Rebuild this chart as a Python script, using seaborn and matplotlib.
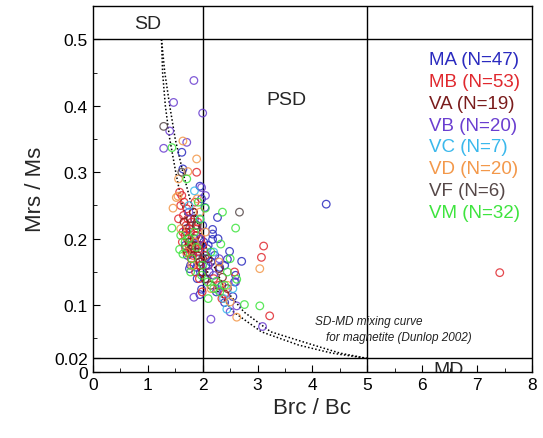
import numpy as np
import pandas as pd
import seaborn as sns
import matplotlib.pyplot as plt
from matplotlib.ticker import MultipleLocator

sns.set_style("ticks")
plt.rcParams['font.family'] = ['Liberation Sans', 'DejaVu Sans']

# Grupos de muestras (Brc/Bc, Mrs/Ms)
ma_x = [4.25, 1.62, 1.64, 1.95, 1.98, 2.04, 2.27, 2.18, 2.18, 2.18, 2.31, 2.49, 2.45, 2.71, 2.55, 2.40,
        2.04, 1.98, 1.95, 1.89, 1.78, 1.76, 2.10, 2.22, 1.70, 1.85, 1.92, 2.05, 2.12, 2.35, 2.60, 1.80,
        1.88, 2.00, 2.08, 1.72, 1.90, 2.28, 2.15, 1.96, 2.02, 2.40, 1.82, 2.25, 2.58, 1.68, 2.06]
ma_y = [0.252, 0.330, 0.305, 0.279, 0.260, 0.247, 0.232, 0.214, 0.207, 0.199, 0.157, 0.181, 0.169, 0.166,
        0.113, 0.104, 0.139, 0.124, 0.116, 0.157, 0.160, 0.155, 0.190, 0.175, 0.215, 0.230, 0.180, 0.170,
        0.150, 0.130, 0.145, 0.195, 0.205, 0.220, 0.185, 0.175, 0.140, 0.200, 0.165, 0.150, 0.195, 0.160,
        0.178, 0.120, 0.135, 0.190, 0.160]

mb_x = [7.41, 3.11, 3.07, 3.22, 2.40, 2.58, 1.89, 1.60, 1.65, 1.70, 1.72, 1.75, 1.78, 1.80, 1.82, 1.85,
        1.88, 1.90, 1.92, 1.95, 1.78, 1.80, 1.83, 1.86, 1.74, 1.77, 1.68, 1.62, 1.58, 1.66, 1.84, 1.87,
        1.93, 1.97, 2.00, 2.05, 1.73, 1.79, 1.81, 1.76, 1.71, 1.69, 1.64, 1.91, 1.94, 2.10, 2.20, 2.30,
        1.56, 1.63, 1.86, 1.99, 2.35]
mb_y = [0.149, 0.189, 0.172, 0.084, 0.117, 0.150, 0.300, 0.250, 0.235, 0.220, 0.200, 0.190, 0.185, 0.180,
        0.175, 0.195, 0.205, 0.215, 0.170, 0.160, 0.210, 0.225, 0.240, 0.185, 0.178, 0.195, 0.205, 0.265,
        0.270, 0.255, 0.160, 0.150, 0.185, 0.200, 0.190, 0.175, 0.230, 0.170, 0.190, 0.215, 0.245, 0.185,
        0.210, 0.225, 0.140, 0.160, 0.140, 0.130, 0.230, 0.195, 0.255, 0.120, 0.110]

va_x = [1.70, 1.75, 1.80, 1.85, 1.90, 1.95, 2.00, 2.05, 1.78, 1.83, 1.88, 2.36, 2.30, 2.15, 1.72, 1.93,
        2.10, 1.66, 2.45]
va_y = [0.210, 0.195, 0.185, 0.200, 0.175, 0.165, 0.150, 0.140, 0.230, 0.240, 0.220, 0.142, 0.155, 0.130,
        0.180, 0.190, 0.170, 0.225, 0.125]

vb_x = [1.84, 1.47, 2.00, 1.40, 1.29, 1.71, 1.84, 2.15, 3.09, 2.62, 2.27, 2.60, 1.98, 2.30, 1.95, 2.10,
        1.75, 2.20, 2.05, 2.50]
vb_y = [0.438, 0.405, 0.389, 0.362, 0.336, 0.345, 0.112, 0.079, 0.068, 0.099, 0.124, 0.135, 0.277, 0.170,
        0.200, 0.160, 0.240, 0.145, 0.265, 0.090]

vc_x = [1.85, 2.44, 2.38, 1.95, 2.20, 1.75, 2.55]
vc_y = [0.272, 0.094, 0.110, 0.230, 0.180, 0.250, 0.125]

vd_x = [1.64, 1.89, 1.73, 1.56, 1.55, 1.52, 1.46, 3.04, 2.62, 2.50, 1.70, 1.80, 1.95, 2.05, 2.30, 1.60,
        1.85, 2.15, 2.45, 1.90]
vd_y = [0.347, 0.320, 0.301, 0.290, 0.264, 0.262, 0.246, 0.155, 0.082, 0.105, 0.180, 0.160, 0.240, 0.210,
        0.165, 0.215, 0.195, 0.125, 0.130, 0.260]

vf_x = [1.29, 2.67, 1.80, 2.00, 1.90, 1.62]
vf_y = [0.369, 0.240, 0.190, 0.170, 0.220, 0.300]

vm_x = [1.44, 2.36, 2.60, 2.33, 3.04, 1.44, 1.71, 1.58, 1.64, 2.05, 1.95, 2.25, 2.62, 2.76, 2.09, 2.31,
        1.89, 1.75, 1.80, 1.85, 2.00, 2.15, 2.45, 1.68, 1.92, 2.20, 2.50, 1.60, 1.78, 2.10, 2.40, 1.98]
vm_y = [0.216, 0.240, 0.216, 0.192, 0.099, 0.337, 0.290, 0.184, 0.177, 0.246, 0.229, 0.136, 0.139, 0.101,
        0.135, 0.120, 0.187, 0.200, 0.170, 0.210, 0.160, 0.180, 0.150, 0.195, 0.255, 0.125, 0.170, 0.205,
        0.150, 0.110, 0.130, 0.145]

grupos = ['MA', 'MB', 'VA', 'VB', 'VC', 'VD', 'VF', 'VM']
colores = ['#2a2abf', '#e0282e', '#7a1c1c', '#6a3ed0', '#3ab8ec', '#f3984a', '#564848', '#3ee43e']
datos = [(ma_x, ma_y), (mb_x, mb_y), (va_x, va_y), (vb_x, vb_y), (vc_x, vc_y),
         (vd_x, vd_y), (vf_x, vf_y), (vm_x, vm_y)]

# Curvas de mezcla SD-MD (Dunlop 2002)
curva_y = [0.50, 0.45, 0.40, 0.35, 0.30, 0.25, 0.20, 0.16, 0.125, 0.09, 0.06, 0.04, 0.028, 0.02]
curva1_x = [1.25, 1.31, 1.40, 1.50, 1.64, 1.80, 2.00, 2.20, 2.40, 2.75, 3.24, 4.02, 4.50, 5.00]
curva2_x = [1.25, 1.27, 1.32, 1.40, 1.51, 1.63, 1.82, 2.03, 2.24, 2.56, 3.07, 3.75, 4.35, 5.00]

df = pd.concat([pd.DataFrame({'Brc/Bc': x, 'Mrs/Ms': y, 'grupo': g})
                for g, (x, y) in zip(grupos, datos)], ignore_index=True)

fig, ax = plt.subplots(figsize=(5.43, 4.39), dpi=100)
fig.subplots_adjust(left=0.171, right=0.980, top=0.984, bottom=0.151)

# Lineas de los dominios
for yv in [0.5, 0.02]:
    ax.axhline(yv, color='k', lw=1.0, zorder=1)
for xv in [2, 5]:
    ax.axvline(xv, color='k', lw=1.0, zorder=1)

for cx in [curva1_x, curva2_x]:
    sns.lineplot(x=cx, y=curva_y, sort=False, estimator=None, color='k', lw=1.1,
                 dashes=False, ax=ax).lines[-1].set_dashes((1, 1.4))

sns.scatterplot(data=df, x='Brc/Bc', y='Mrs/Ms', hue='grupo', palette=dict(zip(grupos, colores)),
                s=30, linewidth=0.9, legend=False, ax=ax, zorder=3)
# circulos huecos
for coll in ax.collections:
    fc = coll.get_facecolors()
    coll.set_edgecolors(fc)
    coll.set_facecolor('none')
    coll.set_alpha(0.85)

ax.set_xlim(0, 8)
ax.set_ylim(0, 0.55)
ax.set_xticks(range(9))
ax.set_yticks([0, 0.02, 0.1, 0.2, 0.3, 0.4, 0.5])
ax.set_yticklabels(['0', '0.02', '0.1', '0.2', '0.3', '0.4', '0.5'])
ax.xaxis.set_minor_locator(MultipleLocator(0.5))
ax.yaxis.set_minor_locator(MultipleLocator(0.05))
ax.tick_params(which='both', direction='in', labelsize=12.5, colors='k')
ax.tick_params(which='major', length=5)
ax.tick_params(which='minor', length=3)
for sp in ax.spines.values():
    sp.set_color('k')
    sp.set_linewidth(1.0)

ax.set_xlabel('Brc / Bc', fontsize=16, labelpad=4)
ax.set_ylabel('Mrs / Ms', fontsize=16, labelpad=6)

ax.text(1.0, 0.523, 'SD', fontsize=14, ha='center', va='center')
ax.text(3.53, 0.41, 'PSD', fontsize=14, ha='center', va='center')
ax.text(6.47, 0.016, 'MD', fontsize=14, ha='center', va='top', clip_on=True)
ax.text(4.04, 0.076, 'SD-MD mixing curve', fontsize=8.5, style='italic', va='center', color='#222222')
ax.text(4.24, 0.052, 'for magnetite (Dunlop 2002)', fontsize=8.5, style='italic', va='center',
        color='#222222')

# Leyenda con texto de color
etiquetas = ['MA (N=47)', 'MB (N=53)', 'VA (N=19)', 'VB (N=20)', 'VC (N=7)', 'VD (N=20)',
             'VF (N=6)', 'VM (N=32)']
for i, (lab, c) in enumerate(zip(etiquetas, colores)):
    ax.text(6.13, 0.470 - i * 0.033, lab, fontsize=13.5, color=c, va='center', ha='left')

plt.savefig('out.png', dpi=100)
